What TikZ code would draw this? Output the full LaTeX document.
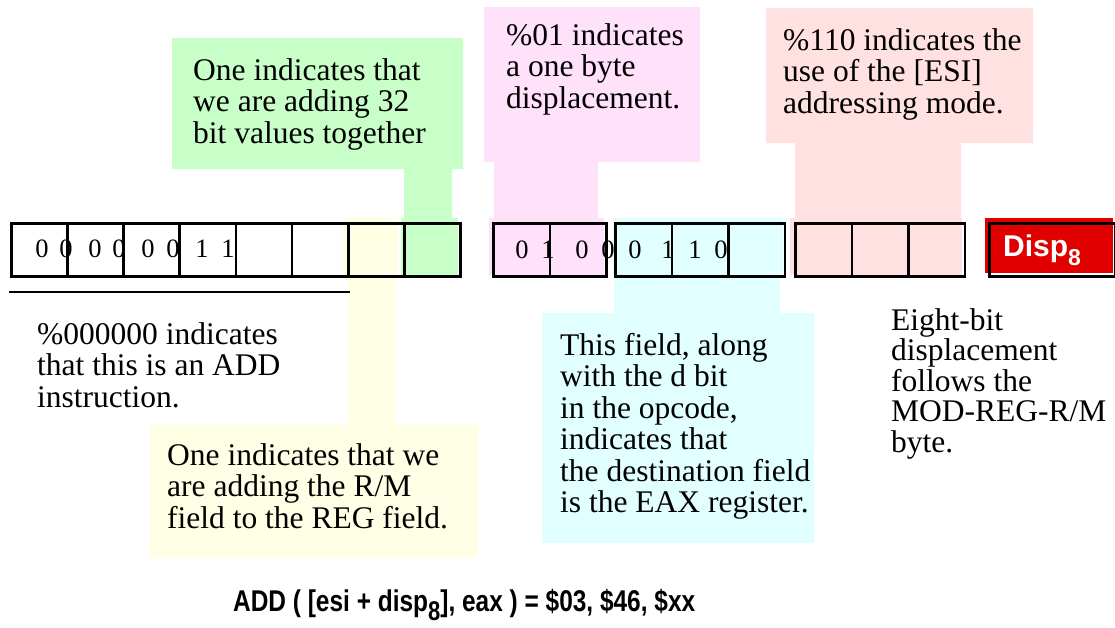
\documentclass[tikz,border=0pt]{standalone}
\usepackage{fontspec}
\setmainfont{Liberation Serif}
\setsansfont{Liberation Sans}
\definecolor{cgreen}{HTML}{C8FFC8}
\definecolor{cpink}{HTML}{FFE1FA}
\definecolor{csalmon}{HTML}{FFE1E1}
\definecolor{ccyan}{HTML}{E1FFFF}
\definecolor{cyellow}{HTML}{FFFFE6}
\definecolor{cred}{HTML}{E00000}
\begin{document}
\begin{tikzpicture}[x=1pt,y=-1pt,
  note/.style={anchor=base west, inner sep=0pt, align=left, font=\fontsize{31.5}{31.5}\selectfont},
  bitbox/.style={draw, line width=2.8pt, minimum width=#1, minimum height=53pt, inner sep=0pt, anchor=north west},
  bitbox/.default=56.5pt,
  bit/.style={anchor=base, inner sep=0pt, font=\fontsize{26.5}{26.5}\selectfont},
]
\useasboundingbox (0,0) rectangle (1115,627);

% coloured callout backgrounds
\fill[cgreen] (172,38) -- (463,38) -- (463,169) -- (452,169) -- (452,218) -- (458,218) -- (458,275) -- (401,275) -- (401,218) -- (404,218) -- (404,169) -- (172,169) -- cycle;
\fill[cpink] (484,7) -- (700,7) -- (700,162) -- (598,162) -- (598,218) -- (604,218) -- (604,275) -- (489,275) -- (489,218) -- (494,218) -- (494,162) -- (484,162) -- cycle;
\fill[csalmon] (766,8) -- (1033,8) -- (1033,143) -- (961,143) -- (961,218) -- (962,218) -- (962,275) -- (790,275) -- (790,218) -- (795,218) -- (795,143) -- (766,143) -- cycle;
\fill[ccyan] (613,218) -- (783,218) -- (783,275) -- (780,275) -- (780,313) -- (814,313) -- (814,543) -- (542,543) -- (542,313) -- (614,313) -- (614,275) -- (613,275) -- cycle;
\fill[cyellow] (343,218) -- (398,218) -- (398,275) -- (396,275) -- (396,425) -- (478,425) -- (478,558) -- (150,558) -- (150,425) -- (348,425) -- (348,275) -- (343,275) -- cycle;

% first byte (opcode)
\foreach \i in {0,...,7} {
  \node[bitbox=56.125pt] (a\i) at ({10+\i*56.125},222) {};
}
% second byte (MOD-REG-R/M)
\foreach \xx [count=\i] in {492,548.5,614,670.5,727,794,850.5,907} {
  \node[bitbox] (m\i) at (\xx,222) {};
}
% bit digits
\foreach \xx/\d [count=\i] in {42/0,66/0,95/0,119/0,148/0,173/0,202/1,228/1} {
  \node[bit] (da\i) at (\xx,257) {\d};
}
\foreach \xx/\d [count=\i] in {522/0,548/1,582/0,608/0,635/0,668/1,695/1,721/0} {
  \node[bit] (dm\i) at (\xx,258) {\d};
}

% displacement
\fill[cred] (985,218) rectangle (1113,273);
\node[draw, line width=2.8pt, minimum width=126pt, minimum height=53pt, inner sep=0pt, anchor=north west] (disp) at (988,222) {};
\node[anchor=base west, inner sep=0pt, text=white, font=\sffamily\bfseries\fontsize{30}{30}\selectfont] (disptxt) at (1003,256) {Disp\raisebox{-9pt}{\fontsize{23}{23}\selectfont 8}};

% underline of opcode field
\coordinate (ul1) at (9,292);
\coordinate (ul2) at (350,292);
\draw[line width=2.2pt] (ul1) -- (ul2);

% texts (base anchor = baseline of the last line)
\node[note] (tgreen) at (193,143) {One indicates that\\we are adding 32\\bit values together};
\node[note] (tpink) at (506,108) {\%01 indicates\\a one byte\\displacement.};
\node[note] (tsalmon) at (783,113) {\%110 indicates the\\use of the [ESI]\\addressing mode.};
\node[note] (topc) at (37,407) {\%000000 indicates\\that this is an ADD\\instruction.};
\node[note] (tyellow) at (167,528) {One indicates that we\\are adding the R/M\\field to the REG field.};
\node[note] (tcyan) at (560,512.5) {This field, along\\with the d bit\\in the opcode,\\indicates that\\the destination field\\is the EAX register.};
\node[note, font=\fontsize{31.5}{30.5}\selectfont] (teight) at (891,452) {Eight-bit\\displacement\\follows the\\MOD-REG-R/M\\byte.};

\node[anchor=base west, inner sep=0pt, xscale=0.815, font=\sffamily\bfseries\fontsize{30}{30}\selectfont] (formula) at (233,611) {ADD ( [esi + disp\raisebox{-9pt}{\fontsize{27}{27}\selectfont 8}], eax ) = \$03, \$46, \$xx};
\end{tikzpicture}
\end{document}
